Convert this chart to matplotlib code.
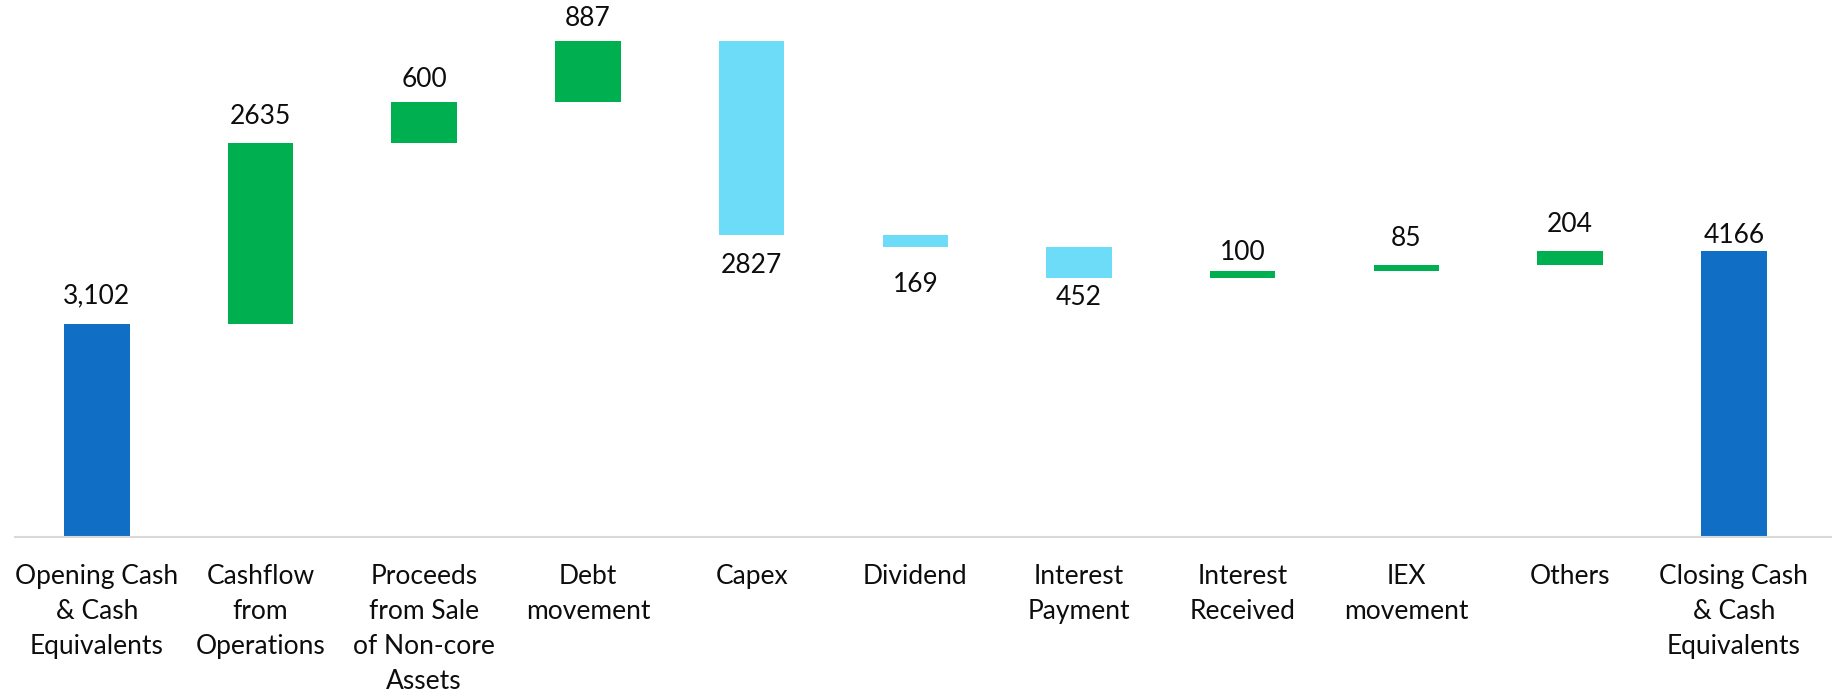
import numpy as np
import matplotlib
matplotlib.use("Agg")
import matplotlib.pyplot as plt

plt.rcParams['font.family'] = ['Lato', 'DejaVu Sans']

categories = ["Opening Cash\n& Cash\nEquivalents", "Cashflow\nfrom\nOperations",
              "Proceeds\nfrom Sale\nof Non-core\nAssets", "Debt\nmovement", "Capex",
              "Dividend", "Interest\nPayment", "Interest\nReceived", "IEX\nmovement",
              "Others", "Closing Cash\n& Cash\nEquivalents"]
opening = 3102
changes = [2635, 600, 887, -2827, -169, -452, 100, 85, 204]
closing = 4166
value_labels = ["3,102", "2635", "600", "887", "2827", "169", "452", "100", "85", "204", "4166"]

# gap between bar edge and label centre, in points
label_gap = [20, 19, 16, 16, 22, 27, 14, 13.5, 19, 19, 11]

blue = "#116EC5"
green = "#00B050"
light_blue = "#6CDCF8"

fig = plt.figure(figsize=(18.32, 6.96), dpi=100)
ax = fig.add_axes([15 / 1832, 1 - 537 / 696, 1 - 15 / 1832, 537 / 696])

x = np.arange(len(categories))
w = 0.40

bottoms, heights, colors = [0], [opening], [blue]
running = opening
for c in changes:
    if c >= 0:
        bottoms.append(running)
        heights.append(c)
        colors.append(green)
    else:
        bottoms.append(running + c)
        heights.append(-c)
        colors.append(light_blue)
    running += c
bottoms.append(0)
heights.append(closing)
colors.append(blue)

ax.bar(x, heights, bottom=bottoms, width=w, color=colors, edgecolor="none")

signs = [1] + [1 if c >= 0 else -1 for c in changes] + [1]
for i in range(len(x)):
    if signs[i] > 0:
        y = bottoms[i] + heights[i]
        off = label_gap[i]
    else:
        y = bottoms[i]
        off = -label_gap[i]
    ax.annotate(value_labels[i], (x[i], y), xytext=(0, off), textcoords="offset points",
                ha="center", va="center", fontsize=19, color="#0D0D0D")

ax.set_xlim(-0.5, 10.6)
ax.set_ylim(0, 7820)
ax.set_xticks(x)
ax.set_xticklabels(categories, fontsize=19, linespacing=1.5, va="top", color="#0D0D0D")
ax.tick_params(axis="x", length=0, pad=19.5)
ax.set_yticks([])
for s in ["top", "right", "left"]:
    ax.spines[s].set_visible(False)
ax.spines["bottom"].set_color("#D9D9D9")
ax.spines["bottom"].set_linewidth(1.5)

fig.savefig("out.png", dpi=100)
